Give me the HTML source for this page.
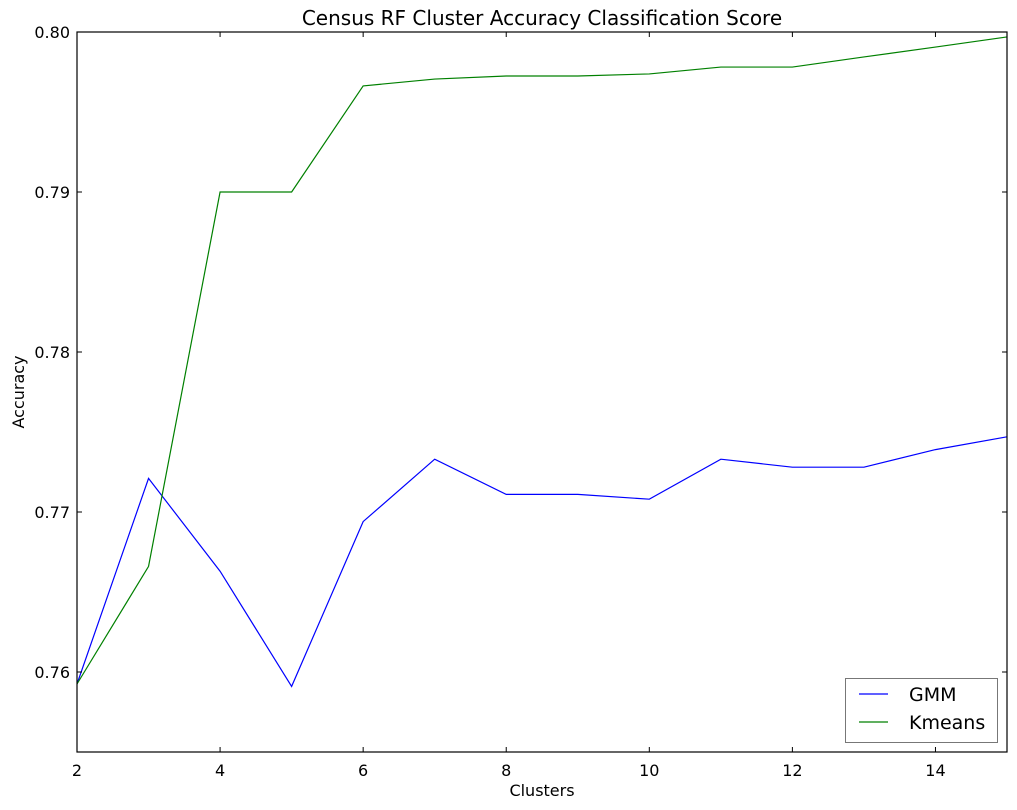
<!DOCTYPE html>
<html><head><meta charset="utf-8"><style>
html,body{margin:0;padding:0;background:#fff;}
svg{display:block;font-family:"DejaVu Sans","Liberation Sans",sans-serif;}
</style></head><body>
<svg id="chart" width="1017" height="810" xmlns="http://www.w3.org/2000/svg">
<rect width="1017" height="810" fill="#fff"/>
</svg>
<script>
const clusters=[2,3,4,5,6,7,8,9,10,11,12,13,14,15];
const gmmValues=[0.75925,0.7721,0.7663,0.7591,0.7694,0.7733,0.7711,0.7711,0.7708,0.7733,0.7728,0.7728,0.7739,0.7747];
const kmeansValues=[0.75925,0.7666,0.79,0.79,0.79663,0.79706,0.79725,0.79725,0.79738,0.79781,0.79781,0.79844,0.79906,0.79969];
const xTicks=[2,4,6,8,10,12,14];
const yTicks=[0.76,0.77,0.78,0.79,0.80];
const yTickLabels=["0.76","0.77","0.78","0.79","0.80"];
const L=77,R=1007,T=32,B=752,xMin=2,xMax=15,yMin=0.755,yMax=0.80;
const xs=v=>L+(v-xMin)/(xMax-xMin)*(R-L);
const ys=v=>B-(v-yMin)/(yMax-yMin)*(B-T);
const svg=document.getElementById('chart');
const NS='http://www.w3.org/2000/svg';
function mk(tag,attrs,parent){const e=document.createElementNS(NS,tag);for(const k in attrs)e.setAttribute(k,attrs[k]);(parent||svg).appendChild(e);return e;}
function txt(s,attrs){const e=mk('text',attrs);e.textContent=s;return e;}
function series(vals,color,name){
  const pts=vals.map((v,i)=>xs(clusters[i]).toFixed(2)+','+ys(v).toFixed(2)).join(' ');
  const p=mk('polyline',{points:pts,fill:'none',stroke:color,'stroke-width':1.2});
  
  
}
series(gmmValues,'#0000ff','gmm-line');
series(kmeansValues,'#008000','kmeans-line');
const frame=mk('rect',{x:L,y:T,width:R-L,height:B-T,fill:'none',stroke:'#000','stroke-width':1.2});


xTicks.forEach(v=>{
  const x=xs(v);
  mk('line',{x1:x,x2:x,y1:B,y2:B-5,stroke:'#000'});
  mk('line',{x1:x,x2:x,y1:T,y2:T+5,stroke:'#000'});
  const t=txt(String(v),{x:x,y:B+24,'text-anchor':'middle','font-size':16});
  
  
});
yTicks.forEach((v,i)=>{
  const y=ys(v);
  mk('line',{x1:L,x2:L+5,y1:y,y2:y,stroke:'#000'});
  mk('line',{x1:R,x2:R-5,y1:y,y2:y,stroke:'#000'});
  const t=txt(yTickLabels[i],{x:L-7,y:y+6,'text-anchor':'end','font-size':16});
  
  
});
const title=txt('Census RF Cluster Accuracy Classification Score',{x:(L+R)/2,y:25,'text-anchor':'middle','font-size':20});


const xl=txt('Clusters',{x:(L+R)/2,y:796,'text-anchor':'middle','font-size':16});


const yl=txt('Accuracy',{x:0,y:0,'text-anchor':'middle','font-size':16,transform:'translate(24,392) rotate(-90)'});


const lg=mk('g',{});


mk('rect',{x:845.5,y:678.5,width:152,height:64,fill:'#fff',stroke:'#777'},lg);
[['GMM','#0000ff',694],['Kmeans','#008000',722]].forEach(([n,c,y])=>{
  const g=mk('g',{},lg);
  
  
  mk('line',{x1:859,x2:888,y1:y,y2:y,stroke:c,'stroke-width':1.2},g);
  const t=mk('text',{x:909,y:y+7,'font-size':19},g);t.textContent=n;
});
</script>
</body></html>
